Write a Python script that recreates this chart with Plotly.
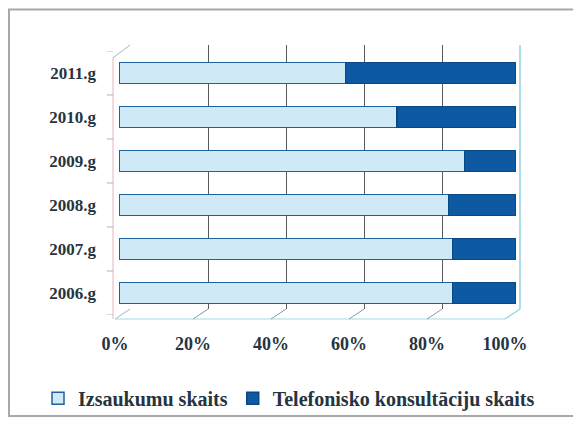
import plotly.graph_objects as go

# ---- data ----
years = ["2006.g", "2007.g", "2008.g", "2009.g", "2010.g", "2011.g"]
izsaukumu = [84, 84, 83, 87, 70, 57]
telefonisko = [16, 16, 17, 13, 30, 43]
series_names = ["Izsaukumu skaits", "Telefonisko konsultāciju skaits"]
pct_ticks = [0, 20, 40, 60, 80, 100]

OFF = 8  # page body margin
W, H = 581 - OFF, 429 - OFF
# plot area in reference pixels
L, R, T, B = 115, 520, 45, 322
PW, PH = R - L, B - T


def px(x):
    return (x - L) / PW


def py(y):
    return (B - y) / PH


FONT = "Liberation Serif"
TXT = "#26343f"

fig = go.Figure()
# invisible anchors so the helper axes get drawn
fig.add_trace(go.Scatter(x=pct_ticks, y=[0.5] * len(pct_ticks), xaxis="x", yaxis="y",
                         mode="markers", marker=dict(opacity=0), showlegend=False,
                         hoverinfo="skip"))
fig.add_trace(go.Scatter(x=pct_ticks, y=[0.5] * len(pct_ticks), xaxis="x3", yaxis="y",
                         mode="markers", marker=dict(opacity=0), showlegend=False,
                         hoverinfo="skip"))
fig.add_trace(go.Bar(
    y=years, x=izsaukumu, name=series_names[0], orientation="h",
    xaxis="x2", yaxis="y2",
    marker=dict(color="#cfe9f6", line=dict(color="#1f62a0", width=1.5)),
))
fig.add_trace(go.Bar(
    y=years, x=telefonisko, name=series_names[1], orientation="h",
    xaxis="x2", yaxis="y2",
    marker=dict(color="#0d5aa3", line=dict(color="#0a4884", width=1.5)),
))

shapes = []


def line(x0, y0, x1, y1, color, width=1):
    shapes.append(dict(type="line", xref="paper", yref="paper",
                       x0=px(x0), y0=py(y0), x1=px(x1), y1=py(y1),
                       line=dict(color=color, width=width), layer="below"))


# outer frame
shapes.append(dict(type="rect", xref="paper", yref="paper",
                   x0=px(9), y0=py(420), x1=px(574), y1=py(9),
                   line=dict(color="#a8a8a8", width=2), layer="below"))
# walls / floor edges
line(113, 322, 113, 58, "#e2b6bf", 1)
line(113, 58, 130, 45, "#9fb5bf", 1)
line(130, 312, 115, 322, "#9fb5bf", 1)
line(115, 322, 505, 322, "#a6dbe6", 1.2)
line(520, 45, 520, 312, "#8fd3df", 1.5)
line(520, 312, 505, 322, "#8fd3df", 1.2)
# floor diagonals from back grid to front ticks
for v in pct_ticks[1:-1]:
    shapes.append(dict(type="line", xref="x", yref="paper", xsizemode="pixel",
                       xanchor=v, x0=0, x1=-15, y0=py(312), y1=py(322),
                       line=dict(color="#8a9aa4", width=1), layer="below"))
# left wall category ticks
for i in range(len(years) + 1):
    shapes.append(dict(type="line", xref="paper", yref="y2",
                       x0=px(107), x1=px(113), y0=i - 0.5, y1=i - 0.5,
                       line=dict(color="#b0b0b0", width=1), layer="below"))

fig.update_layout(
    width=W, height=H,
    margin=dict(l=L - OFF, r=W + OFF - R, t=T - OFF, b=H + OFF - B, pad=0),
    paper_bgcolor="white",
    plot_bgcolor="rgba(0,0,0,0)",
    barmode="stack",
    bargap=0.52,
    showlegend=True,
    font=dict(family=FONT, color=TXT),
    # back-wall gridlines
    xaxis=dict(domain=[px(130), 1.0], range=[0, 100], tickvals=pct_ticks[:-1],
               showgrid=True, gridcolor="#5a5a5a", gridwidth=1,
               showticklabels=False, zeroline=False, showline=False,
               ticks="", anchor="y", fixedrange=True),
    yaxis=dict(domain=[py(312), 1.0], range=[0, 1], showgrid=False,
               showticklabels=False, zeroline=False, showline=False,
               anchor="x", fixedrange=True),
    # bars
    xaxis2=dict(domain=[px(119), px(516)], range=[0, 100], showgrid=False,
                showticklabels=False, zeroline=False, showline=False,
                anchor="y2", fixedrange=True),
    yaxis2=dict(domain=[py(318), py(51)], type="category",
                categoryorder="array", categoryarray=years,
                range=[-0.5, len(years) - 0.5],
                showgrid=False, zeroline=False, showline=False,
                ticks="", ticklabelstandoff=22, anchor="x2",
                tickfont=dict(family=FONT, size=17, color=TXT, weight="bold"),
                fixedrange=True),
    # front tick labels
    xaxis3=dict(domain=[0, px(505)], range=[0, 100], tickvals=pct_ticks,
                ticktext=[f"{v}%" for v in pct_ticks],
                showgrid=False, zeroline=False, showline=False, ticks="",
                anchor="free", position=0, ticklabelstandoff=12,
                tickfont=dict(family=FONT, size=18, color=TXT, weight="bold"),
                fixedrange=True),
    legend=dict(orientation="h", x=px(38), y=py(402), xanchor="left",
                yanchor="middle", traceorder="normal",
                font=dict(family=FONT, size=20, color=TXT, weight="bold"),
                bgcolor="rgba(0,0,0,0)"),
    shapes=shapes,
)

fig.write_html("out.html")
